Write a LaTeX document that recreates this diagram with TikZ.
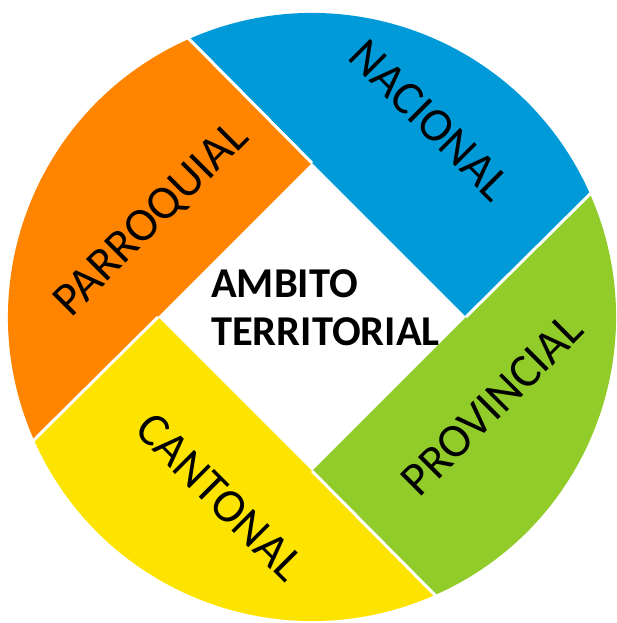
\documentclass[tikz,border=0pt]{standalone}
\usepackage{fontspec}
\setmainfont{Carlito}
\usepackage{xcolor}
\usepackage{tikz}
\usetikzlibrary{positioning,calc}

\definecolor{nacblue}{RGB}{0,154,216}
\definecolor{parorange}{RGB}{255,133,0}
\definecolor{canyellow}{RGB}{252,228,0}
\definecolor{provgreen}{RGB}{145,204,42}

\begin{document}
\begin{tikzpicture}[x=1pt, y=1pt]
    \tikzstyle{divider} = [draw=white, line width=3pt]
    \tikzstyle{lvltext} = [font=\fontsize{47.5}{50}\selectfont, inner sep=0pt, text=black]

    \useasboundingbox (0,0) rectangle (617,623);

    % centre and corners of the inner square
    \coordinate (c) at (312,306);
    \coordinate (top) at ($(c)+(0,154)$);
    \coordinate (right) at ($(c)+(154,0)$);
    \coordinate (bottom) at ($(c)+(0,-154)$);
    \coordinate (left) at ($(c)+(-154,0)$);

    % the four segments
    \fill [nacblue] ($(c)+(114:304)$) arc [start angle=114, end angle=24, radius=304] -- (right) -- (top) -- cycle;
    \fill [provgreen] ($(c)+(24:304)$) arc [start angle=24, end angle=-66, radius=304] -- (bottom) -- (right) -- cycle;
    \fill [canyellow] ($(c)+(-66:304)$) arc [start angle=-66, end angle=-156, radius=304] -- (left) -- (bottom) -- cycle;
    \fill [parorange] ($(c)+(204:304)$) arc [start angle=204, end angle=114, radius=304] -- (top) -- (left) -- cycle;

    \coordinate (nw) at ($(c)+(114:306)$);
    \coordinate (ne) at ($(c)+(24:306)$);
    \coordinate (se) at ($(c)+(-66:306)$);
    \coordinate (sw) at ($(c)+(204:306)$);
    \draw [divider] (nw) -- (top);
    \draw [divider] (ne) -- (right);
    \draw [divider] (se) -- (bottom);
    \draw [divider] (sw) -- (left);

    \node [lvltext, rotate=-45] (nacional) at (430,503) {NACIONAL};
    \node [lvltext, rotate=45] (parroquial) at (152,403) {PARROQUIAL};
    \node [lvltext, rotate=-45] (cantonal) at (220,126) {CANTONAL};
    \node [lvltext, rotate=45] (provincial) at (492,218) {PROVINCIAL};

    \node [font=\bfseries\fontsize{42.5}{48}\selectfont, align=left, anchor=west, inner sep=0pt] (ambito) at (211,315.5) {AMBITO\\TERRITORIAL};
\end{tikzpicture}
\end{document}
